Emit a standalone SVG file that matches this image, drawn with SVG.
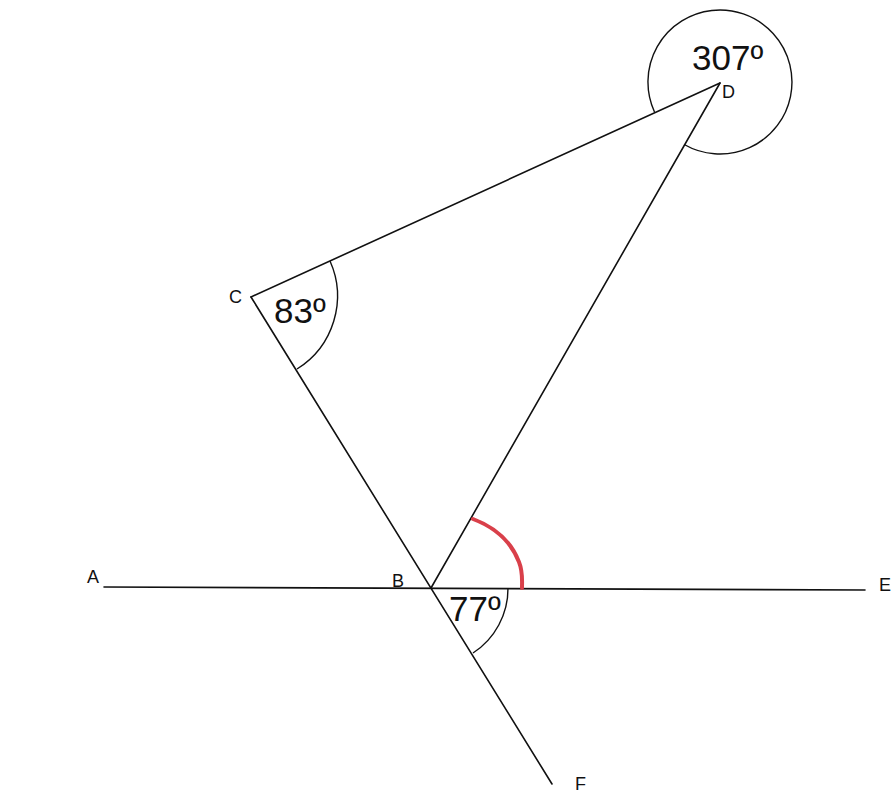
<svg xmlns="http://www.w3.org/2000/svg" width="892" height="795" viewBox="0 0 892 795">
<style>
.ln{stroke:#111;stroke-width:1.6;fill:none;stroke-linecap:round}
.arc{stroke:#111;stroke-width:1.4;fill:none}
.lbl{font-family:"Liberation Sans",Arial,sans-serif;font-size:18px;fill:#111}
.ang{font-family:"Liberation Sans",Arial,sans-serif;font-size:35px;fill:#111}
</style>
<rect width="892" height="795" fill="#fff"/>
<g id="connectors">
<line class="ln" x1="104" y1="587" x2="865" y2="590"/>
<line class="ln" x1="251" y1="297" x2="552" y2="784"/>
<line class="ln" x1="251" y1="297" x2="720" y2="83"/>
<line class="ln" x1="431" y1="588" x2="720" y2="83"/>
</g>
<g id="angle-C">
<path class="arc" d="M330,261 A86,86 0 0 1 297,369"/>
<text class="ang" x="274" y="323">83º</text>
</g>
<g id="angle-D">
<path class="arc" d="M654.5,112 A72,72 0 1 1 684.2,144.5"/>
<text class="ang" x="692" y="70">307º</text>
</g>
<g id="angle-B">
<path class="arc" d="M508,588 A77,77 0 0 1 473,653"/>
<text class="ang" x="449" y="621">77º</text>
</g>
<g id="angle-red">
<path d="M473,519 C497,528 512,544 519,562 C523,572 522,580 522,588" fill="none" stroke="#d9404a" stroke-width="4" stroke-linecap="round"/>
</g>
<g id="A"><text class="lbl" x="87" y="583">A</text></g>
<g id="B"><text class="lbl" x="392" y="587">B</text></g>
<g id="C"><text class="lbl" x="229" y="303">C</text></g>
<g id="D"><text class="lbl" x="722" y="98">D</text></g>
<g id="E"><text class="lbl" x="879" y="591">E</text></g>
<g id="F"><text class="lbl" x="575" y="790">F</text></g>
</svg>
